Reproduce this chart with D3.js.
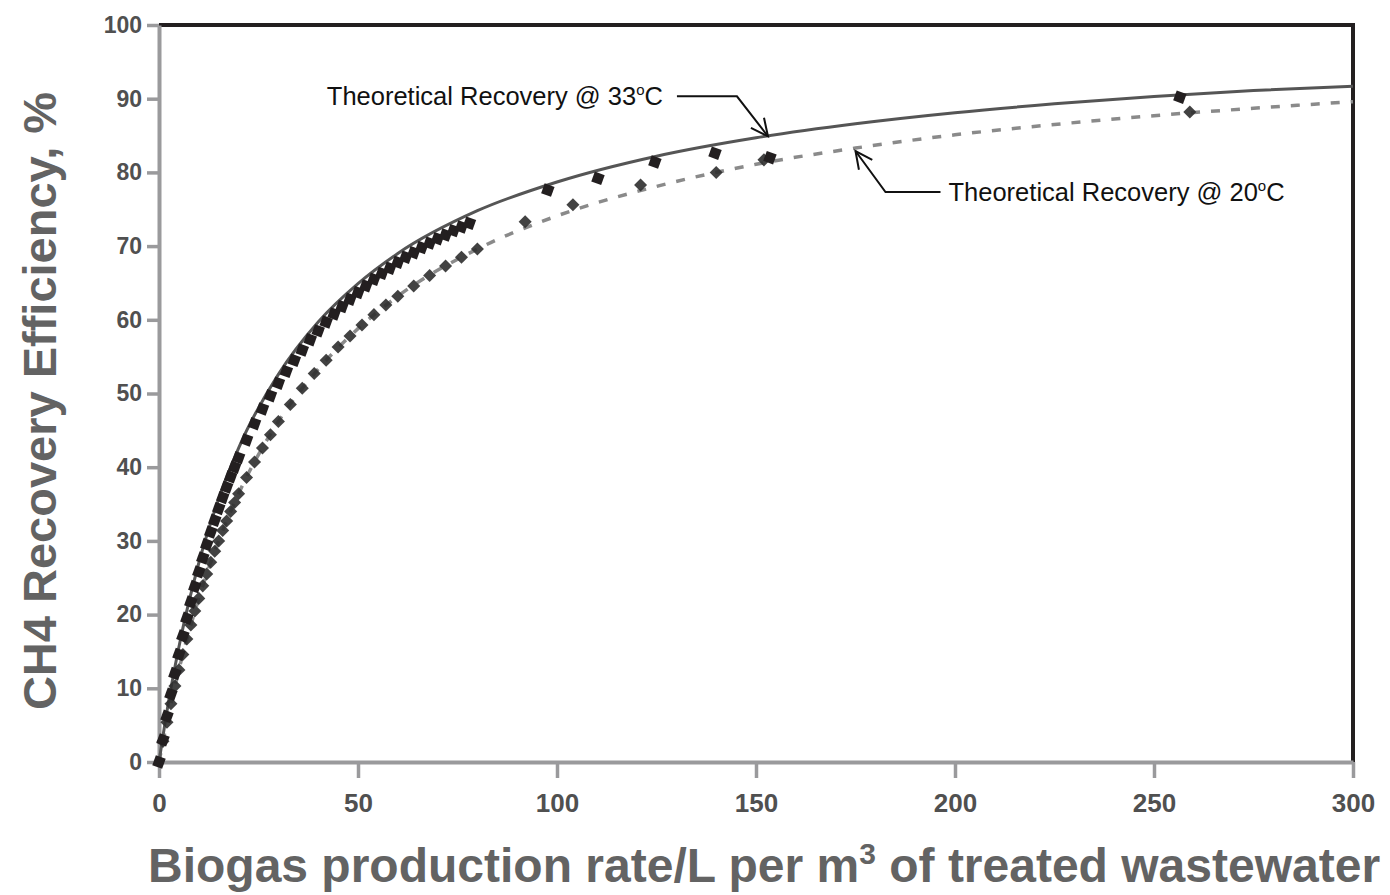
<!DOCTYPE html>
<html>
<head>
<meta charset="utf-8">
<script src="https://cdn.jsdelivr.net/npm/d3@7"></script>
<style>
  html, body { margin: 0; padding: 0; background: #fff; }
  svg { display: block; }
</style>
</head>
<body>
<svg id="chart" width="1390" height="895"></svg>
<script>
// ---------- data ----------
const xTicks = [0, 50, 100, 150, 200, 250, 300];
const yTicks = [0, 10, 20, 30, 40, 50, 60, 70, 80, 90, 100];

// theoretical curves
const theoX  = [0, 2, 5, 10, 15, 20, 30, 40, 50, 60, 80, 100, 125, 150, 175, 200, 225, 250, 275, 300];
const theo33 = [0, 6.9, 15.6, 27.0, 35.7, 42.6, 52.6, 59.7, 64.9, 69.0, 74.8, 78.7, 82.2, 84.7, 86.6, 88.1, 89.3, 90.3, 91.1, 91.7];
const theo20 = [0, 5.4, 12.5, 22.2, 30.0, 36.4, 46.2, 53.3, 58.8, 63.2, 69.6, 74.1, 78.1, 81.1, 83.3, 85.1, 86.5, 87.7, 88.7, 89.6];

// measured points near the 33 °C curve
const meas33X = [0, 1, 2, 3, 4, 5, 6, 7, 8, 9, 10, 11, 12, 13, 14, 15, 16, 17, 18, 19, 20, 22, 24, 26, 28, 30, 32, 34, 36, 38, 40, 42, 44, 46, 48, 50, 52, 54, 56, 58, 60, 62, 64, 66, 68, 70, 72, 74, 76, 78, 97.7, 110.3, 124.6, 139.7, 153.5, 256.5];
const meas33Y = [0, 3, 6.2, 9.2, 12, 14.6, 17.1, 19.5, 21.7, 23.8, 25.8, 27.7, 29.5, 31.2, 32.8, 34.4, 35.9, 37.3, 38.7, 40, 41.3, 43.7, 45.9, 47.9, 49.7, 51.4, 53, 54.5, 55.9, 57.3, 58.5, 59.7, 60.8, 61.8, 62.8, 63.7, 64.6, 65.5, 66.3, 67, 67.8, 68.5, 69.1, 69.8, 70.4, 71, 71.5, 72.1, 72.6, 73.1, 77.6, 79.2, 81.4, 82.6, 82.0, 90.2];

// measured points near the 20 °C curve
const meas20X = [1, 2, 3, 4, 5, 6, 7, 8, 9, 10, 11, 12, 13, 14, 15, 16, 17, 18, 19, 20, 22, 24, 26, 28, 30, 33, 36, 39, 42, 45, 48, 51, 54, 57, 60, 64, 68, 72, 76, 80, 92, 104, 121, 140, 152, 259];
const meas20Y = [2.8, 5.4, 7.9, 10.3, 12.5, 14.6, 16.7, 18.6, 20.5, 22.2, 23.9, 25.5, 27.1, 28.6, 30.0, 31.4, 32.7, 34.0, 35.2, 36.4, 38.6, 40.7, 42.6, 44.4, 46.2, 48.5, 50.7, 52.7, 54.5, 56.3, 57.8, 59.3, 60.7, 62.0, 63.2, 64.6, 66.0, 67.3, 68.5, 69.6, 73.3, 75.6, 78.3, 80.0, 81.7, 88.2];

// annotations: label text, data point the arrow points to
const annoLabels = ["Theoretical Recovery @ 33", "Theoretical Recovery @ 20"];
const annoTipX = [153, 175];
const annoTipY = [84.9, 82.9];

// ---------- layout ----------
const svg = d3.select("#chart");
const x = d3.scaleLinear().domain([0, 300]).range([159, 1353]);
const y = d3.scaleLinear().domain([0, 100]).range([762, 25]);

const AXIS_GREY = "#9a9a9c";
const TEXT_GREY = "#636363";
const TICK_TEXT = "#505050";

// top & right border (black)
svg.append("path")
  .attr("d", `M${x(0)},${y(100)}H${x(300)}V${y(0)}`)
  .attr("fill", "none").attr("stroke", "#231f20").attr("stroke-width", 4);

// y axis
const gy = svg.append("g")
  .attr("transform", `translate(${x(0)},0)`)
  .call(d3.axisLeft(y).tickValues(yTicks).tickSize(12).tickSizeOuter(0).tickPadding(5));
gy.select(".domain").attr("stroke", AXIS_GREY).attr("stroke-width", 4);
gy.selectAll(".tick line").attr("stroke", AXIS_GREY).attr("stroke-width", 3.5);
gy.selectAll(".tick text")
  .attr("font-family", "'Liberation Sans', Arial, sans-serif")
  .attr("font-size", 23).attr("font-weight", "bold").attr("fill", TICK_TEXT);

// x axis
const gx = svg.append("g")
  .attr("transform", `translate(0,${y(0)})`)
  .call(d3.axisBottom(x).tickValues(xTicks).tickSize(16).tickSizeOuter(0).tickPadding(16));
gx.select(".domain").attr("stroke", AXIS_GREY).attr("stroke-width", 4);
gx.selectAll(".tick line").attr("stroke", AXIS_GREY).attr("stroke-width", 3.5);
gx.selectAll(".tick text")
  .attr("font-family", "'Liberation Sans', Arial, sans-serif")
  .attr("font-size", 26).attr("font-weight", "bold").attr("fill", TICK_TEXT);

// ---------- theoretical curves ----------
const line = d3.line().x(d => x(d[0])).y(d => y(d[1])).curve(d3.curveMonotoneX);

svg.append("path")
  .datum(theoX.map((v, i) => [v, theo20[i]]))
  .attr("d", line)
  .attr("fill", "none").attr("stroke", "#8a8a8a").attr("stroke-width", 3.5)
  .attr("stroke-dasharray", "9,11");

svg.append("path")
  .datum(theoX.map((v, i) => [v, theo33[i]]))
  .attr("d", line)
  .attr("fill", "none").attr("stroke", "#555").attr("stroke-width", 3);

// ---------- measured points ----------
const sym20 = d3.symbol().type(d3.symbolSquare).size(85);
svg.append("g").selectAll("path")
  .data(meas20X.map((v, i) => [v, meas20Y[i]]))
  .join("path")
  .attr("transform", d => `translate(${x(d[0])},${y(d[1])}) rotate(45)`)
  .attr("d", sym20)
  .attr("fill", "#2e2e2e").attr("opacity", 0.9);

const sym33 = d3.symbol().type(d3.symbolSquare).size(110);
svg.append("g").selectAll("path")
  .data(meas33X.map((v, i) => [v, meas33Y[i]]))
  .join("path")
  .attr("transform", d => `translate(${x(d[0])},${y(d[1])}) rotate(20)`)
  .attr("d", sym33)
  .attr("fill", "#231f20");

// ---------- annotations ----------
function arrowHead(tx, ty, fx, fy, len, ang) {
  const a = Math.atan2(fy - ty, fx - tx);
  const p1 = [tx + len * Math.cos(a + ang), ty + len * Math.sin(a + ang)];
  const p2 = [tx + len * Math.cos(a - ang), ty + len * Math.sin(a - ang)];
  return `M${p1[0]},${p1[1]}L${tx},${ty}L${p2[0]},${p2[1]}`;
}
const annoFont = "'Liberation Sans', Arial, sans-serif";

// 33 °C
{
  const tx = x(annoTipX[0]), ty = y(annoTipY[0]);
  const ex = tx - 31, ey = ty - 40;
  svg.append("path").attr("d", `M${ex - 60},${ey}H${ex}L${tx},${ty}`)
    .attr("fill", "none").attr("stroke", "#111").attr("stroke-width", 2);
  svg.append("path").attr("d", arrowHead(tx, ty, ex, ey, 19, 0.45))
    .attr("fill", "none").attr("stroke", "#111").attr("stroke-width", 2);
  const t = svg.append("text").attr("x", ex - 60 - 14).attr("y", ey + 9)
    .attr("text-anchor", "end")
    .attr("font-family", annoFont).attr("font-size", 25.5).attr("fill", "#111");
  t.append("tspan").text(annoLabels[0]);
  t.append("tspan").text("o").attr("font-size", 15).attr("dy", -10);
  t.append("tspan").text("C").attr("dy", 10);
}
// 20 °C
{
  const tx = x(annoTipX[1]), ty = y(annoTipY[1]);
  const ex = tx + 30, ey = ty + 41;
  svg.append("path").attr("d", `M${tx},${ty}L${ex},${ey}H${ex + 55}`)
    .attr("fill", "none").attr("stroke", "#111").attr("stroke-width", 2);
  svg.append("path").attr("d", arrowHead(tx, ty, ex, ey, 19, 0.45))
    .attr("fill", "none").attr("stroke", "#111").attr("stroke-width", 2);
  const t = svg.append("text").attr("x", ex + 55 + 8).attr("y", ey + 9)
    .attr("font-family", annoFont).attr("font-size", 25.5).attr("fill", "#111");
  t.append("tspan").text(annoLabels[1]);
  t.append("tspan").text("o").attr("font-size", 15).attr("dy", -10);
  t.append("tspan").text("C").attr("dy", 10);
}

// ---------- axis titles ----------
svg.append("text")
  .attr("transform", `translate(56,401) rotate(-90)`)
  .attr("text-anchor", "middle")
  .attr("font-family", "'Liberation Sans', Arial, sans-serif")
  .attr("font-weight", "bold").attr("font-size", 47).attr("fill", TEXT_GREY)
  .text("CH4 Recovery Efficiency, %");

const xt = svg.append("text")
  .attr("x", 148).attr("y", 882)
  .attr("font-family", "'Liberation Sans', Arial, sans-serif")
  .attr("font-weight", "bold").attr("font-size", 48).attr("fill", TEXT_GREY);
xt.append("tspan").text("Biogas production rate/L per m");
xt.append("tspan").text("3").attr("font-size", 30).attr("dy", -18);
xt.append("tspan").text(" of treated wastewater").attr("dy", 18);
</script>
</body>
</html>
